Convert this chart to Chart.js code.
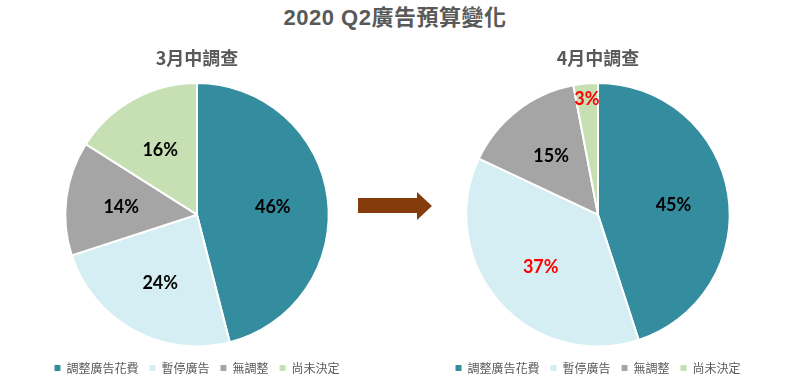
<!DOCTYPE html>
<html><head><meta charset="utf-8">
<script src="https://cdn.jsdelivr.net/npm/chart.js@4/dist/chart.umd.min.js"></script>
<style>
html,body{margin:0;padding:0;width:800px;height:382px;overflow:hidden;background:#fff;}
#title{position:absolute;left:0;top:4px;width:790px;text-align:center;font-weight:bold;font-size:22px;font-family:"Liberation Sans", "Noto Sans CJK TC", sans-serif;color:#595959;line-height:28px;letter-spacing:0.5px;}
.box{position:absolute;top:0;width:400px;height:384px;}
#arrow{position:absolute;left:358px;top:191px;}
</style></head>
<body>
<div id="title">2020 Q2廣告預算變化</div>
<div class="box" style="left:0"><canvas id="c1" width="400" height="384"></canvas></div>
<div class="box" style="left:400px"><canvas id="c2" width="400" height="384"></canvas></div>
<svg id="arrow" width="76" height="30"><polygon points="0,7 59,7 59,1 74,15 59,29 59,22 0,22" fill="#843C0C"/></svg>
<script>
const categories = ['調整廣告花費', '暫停廣告', '無調整', '尚未決定'];
const marchValues = [46, 24, 14, 16];
const aprilValues = [45, 37, 15, 3];
const chartTitles = ['3月中調查', '4月中調查'];
const sliceColors = ['#348C9F', '#D4EEF3', '#A5A5A5', '#C6E0B4'];
const marchLabelColors = ['#000', '#000', '#000', '#000'];
const aprilLabelColors = ['#000', '#FF0000', '#000', '#FF0000'];

const pctLabels = {
  id: 'pctLabels',
  afterDatasetsDraw(chart, args, opts) {
    const ctx = chart.ctx;
    const meta = chart.getDatasetMeta(0);
    const ds = chart.data.datasets[0];
    const total = ds.data.reduce((a, b) => a + b, 0);
    ctx.save();
    ctx.font = 'bold 18px Lato, "Noto Sans", sans-serif';
    ctx.textAlign = 'center';
    ctx.textBaseline = 'middle';
    meta.data.forEach((arc, i) => {
      const p = arc.getProps(['x', 'y', 'startAngle', 'endAngle', 'outerRadius'], true);
      const mid = (p.startAngle + p.endAngle) / 2;
      const share = ds.data[i] / total;
      const f = share < 0.05 ? 0.9 : 0.58;
      ctx.fillStyle = opts.colors[i];
      ctx.fillText(ds.data[i] + '%', p.x + Math.cos(mid) * p.outerRadius * f, p.y + 2 + Math.sin(mid) * p.outerRadius * f);
    });
    ctx.restore();
  }
};

function makePie(id, values, title, labelColors, padRight) {
  return new Chart(document.getElementById(id), {
    type: 'pie',
    data: {
      labels: categories,
      datasets: [{ data: values, backgroundColor: sliceColors, borderColor: '#ffffff', borderWidth: 2 }]
    },
    plugins: [pctLabels],
    options: {
      responsive: false,
      animation: false,
      devicePixelRatio: 1,
      layout: { padding: { left: 0, right: padRight, top: 0, bottom: 0 } },
      plugins: {
        tooltip: { enabled: false },
        pctLabels: { colors: labelColors },
        title: {
          display: true,
          text: title,
          color: '#595959',
          font: { family: '"Noto Sans CJK TC", sans-serif', size: 18, weight: 'bold' },
          padding: { top: 47, bottom: 13.4 }
        },
        legend: {
          position: 'bottom',
          title: { display: true, text: ' ', font: { size: 3 }, padding: 0 },
          labels: {
            boxWidth: 6,
            boxHeight: 6,
            padding: 11,
            color: '#595959',
            font: { family: '"Noto Sans CJK TC", sans-serif', size: 12 },
            generateLabels(chart) {
              const items = Chart.overrides.pie.plugins.legend.labels.generateLabels(chart);
              items.forEach(it => { it.lineWidth = 0; it.strokeStyle = it.fillStyle; it.fontColor = '#595959'; });
              return items;
            }
          }
        }
      }
    }
  });
}

makePie('c1', marchValues, chartTitles[0], marchLabelColors, 6);
makePie('c2', aprilValues, chartTitles[1], aprilLabelColors, 4);
</script>
</body></html>
